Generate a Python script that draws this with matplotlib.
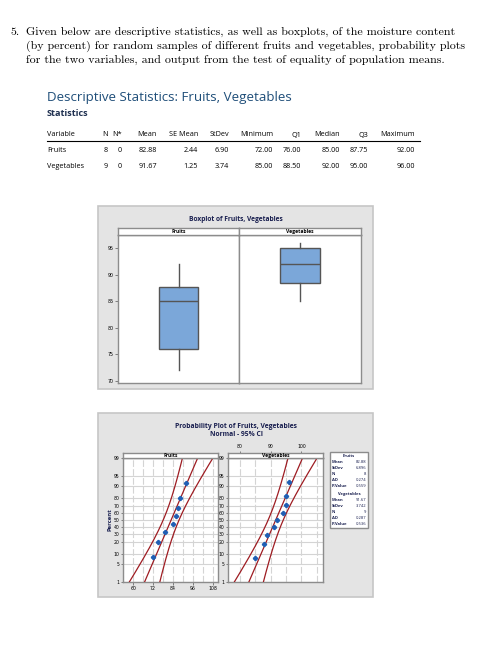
import numpy as np
import matplotlib
matplotlib.use('Agg')
import matplotlib.pyplot as plt
from matplotlib.patches import Rectangle
from statistics import NormalDist

W, H = 482, 668

# ---------------- data ----------------
intro_lines = [
    "Given below are descriptive statistics, as well as boxplots, of the moisture content",
    "(by percent) for random samples of different fruits and vegetables, probability plots",
    "for the two variables, and output from the test of equality of population means.",
]
variables = ['Fruits', 'Vegetables']
headers = ['Variable', 'N', 'N*', 'Mean', 'SE Mean', 'StDev', 'Minimum', 'Q1', 'Median', 'Q3', 'Maximum']
n_vals = [8, 9]
nstar_vals = [0, 0]
mean_vals = [82.88, 91.67]
semean_vals = [2.44, 1.25]
stdev_vals = [6.90, 3.74]
min_vals = [72.00, 85.00]
q1_vals = [76.00, 88.50]
median_vals = [85.00, 92.00]
q3_vals = [87.75, 95.00]
max_vals = [92.00, 96.00]

fruits = [72, 75, 79, 84, 86, 87, 88, 92]
vegetables = [85, 88, 89, 91, 92, 94, 95, 95, 96]

pct_ticks = [1, 5, 10, 20, 30, 40, 50, 60, 70, 80, 90, 95, 99]
box_yticks = [70, 75, 80, 85, 90, 95]
fruit_xticks = [60, 72, 84, 96, 108]
veg_xticks = [80, 90, 100]

legend_labels = ['Mean', 'StDev', 'N', 'AD', 'P-Value']
fruit_legend = ['82.88', '6.896', '8', '0.274', '0.559']
veg_legend = ['91.67', '3.742', '9', '0.287', '0.536']

# ---------------- helpers ----------------
def fx(x):
    return x / W

def fy(y):
    return 1 - y / H

def rect(l, t, r, b):
    return [l / W, 1 - b / H, (r - l) / W, (b - t) / H]

fig = plt.figure(figsize=(W / 100, H / 100), dpi=100)
fig.patch.set_facecolor('white')

def fig_rect(l, t, r, b, fc, ec, lw=1.0):
    fig.add_artist(Rectangle((l / W, 1 - b / H), (r - l) / W, (b - t) / H,
                             transform=fig.transFigure, facecolor=fc,
                             edgecolor=ec, lw=lw, zorder=0))

# ---------------- intro text ----------------
serif = 'cmr10'
fig.text(fx(10), fy(32), '5.', fontsize=8.6, family=serif, va='center', ha='left')
for i, line in enumerate(intro_lines):
    fig.text(fx(26), fy(32 + 14 * i), line, fontsize=8.6, family=serif, va='center', ha='left')

# ---------------- table ----------------
sans = 'Open Sans'
title_col = '#1F4E79'
fig.text(fx(47), fy(98), 'Descriptive Statistics: Fruits, Vegetables', fontsize=9.6,
         family=sans, color=title_col, va='center', ha='left')
fig.text(fx(47), fy(114), 'Statistics', fontsize=6.6, family=sans, color='#1F3050',
         va='center', ha='left', weight='bold')

col_right = [None, 108, 122, 157, 198, 229, 273, 301, 340, 368, 415]
tfs = 5.2
fig.text(fx(47), fy(135), headers[0], fontsize=tfs, family=sans, va='center', ha='left')
for h, xr in zip(headers[1:], col_right[1:]):
    fig.text(fx(xr), fy(135), h, fontsize=tfs, family=sans, va='center', ha='right')
fig.add_artist(plt.Line2D([fx(47), fx(420)], [fy(140.5), fy(140.5)], color='black', lw=0.8,
                          transform=fig.transFigure))
for i, var in enumerate(variables):
    yy = fy(151 + 16 * i)
    vals = [str(n_vals[i]), str(nstar_vals[i]), f'{mean_vals[i]:.2f}', f'{semean_vals[i]:.2f}',
            f'{stdev_vals[i]:.2f}', f'{min_vals[i]:.2f}', f'{q1_vals[i]:.2f}',
            f'{median_vals[i]:.2f}', f'{q3_vals[i]:.2f}', f'{max_vals[i]:.2f}']
    fig.text(fx(47), yy, var, fontsize=tfs, family=sans, va='center', ha='left')
    for v, xr in zip(vals, col_right[1:]):
        fig.text(fx(xr), yy, v, fontsize=tfs, family=sans, va='center', ha='right')

# ---------------- boxplot ----------------
bg = '#E4E4E4'
bg_edge = '#C6C6C6'
frame = '#8C8C8C'
fig_rect(98, 206, 373, 389, bg, bg_edge, 1.2)
fig.text(fx(236), fy(219), 'Boxplot of Fruits, Vegetables', fontsize=4.8, family=sans,
         color='#1A2050', va='center', ha='center', weight='bold')

box_axes = [fig.add_axes(rect(118, 235, 239, 383)), fig.add_axes(rect(239, 235, 361, 383))]
head_axes = [fig.add_axes(rect(118, 228, 239, 235)), fig.add_axes(rect(239, 228, 361, 235))]
for i, (ax, hx) in enumerate(zip(box_axes, head_axes)):
    stats = [dict(whislo=min_vals[i], q1=q1_vals[i], med=median_vals[i],
                  q3=q3_vals[i], whishi=max_vals[i], fliers=[])]
    ax.bxp(stats, positions=[1], widths=0.66, patch_artist=True, showcaps=False,
           boxprops=dict(facecolor='#7BA7D9', edgecolor='#555555', lw=1.0),
           medianprops=dict(color='#555555', lw=1.0),
           whiskerprops=dict(color='#555555', lw=1.0))
    ax.set_xlim(0, 2)
    ax.set_ylim(69.62, 97.44)
    ax.set_xticks([])
    ax.set_facecolor('white')
    for s in ax.spines.values():
        s.set_color(frame)
        s.set_linewidth(1.0)
    if i == 0:
        ax.set_yticks(box_yticks)
        ax.tick_params(axis='y', labelsize=3.4, length=2, width=0.5, color='#555555', pad=1)
    else:
        ax.set_yticks([])
    hx.set_xticks([]); hx.set_yticks([])
    hx.set_facecolor('white')
    for s in hx.spines.values():
        s.set_color(frame)
        s.set_linewidth(1.0)
    hx.text(0.5, 0.45, variables[i], fontsize=3.6, family=sans, weight='bold',
            ha='center', va='center', transform=hx.transAxes)

# ---------------- probability plot ----------------
fig_rect(98, 413, 373, 597, bg, bg_edge, 1.2)
fig.text(fx(236), fy(426), 'Probability Plot of Fruits, Vegetables', fontsize=4.9, family=sans,
         color='#1A2050', va='center', ha='center', weight='bold')
fig.text(fx(236), fy(435), 'Normal - 95% CI', fontsize=4.9, family=sans,
         color='#1A2050', va='center', ha='center', weight='bold')
fig.text(fx(110), fy(520), 'Percent', fontsize=4.2, family=sans, rotation=90,
         va='center', ha='center', color='#1A2050', weight='bold')

nd = NormalDist()
zlo, zhi = nd.inv_cdf(0.01), nd.inv_cdf(0.99)
zt = [nd.inv_cdf(p / 100) for p in pct_ticks]

prob_specs = [
    (fruits, rect(123, 458, 218, 582), rect(123, 453, 218, 458), (53.8, 111.2), fruit_xticks, 6, 'bottom'),
    (vegetables, rect(228, 458, 323, 582), rect(228, 453, 323, 458), (76.2, 107.0), veg_xticks, 5, 'top'),
]
red = '#9E1C22'
for i, (data, r_ax, r_hd, xl, xt, step, side) in enumerate(prob_specs):
    ax = fig.add_axes(r_ax)
    hx = fig.add_axes(r_hd)
    d = np.sort(np.array(data, dtype=float))
    n = len(d)
    zp = [nd.inv_cdf((k + 1 - 0.3) / (n + 0.4)) for k in range(n)]
    m = d.mean()
    sd = d.std(ddof=1)
    zz = np.linspace(zlo - 0.3, zhi + 0.3, 200)
    fit = m + sd * zz
    se = sd * np.sqrt(1.0 / n + zz ** 2 / (2.0 * n))
    ax.plot(fit, zz, color=red, lw=0.9, zorder=3)
    ax.plot(fit - 1.96 * se, zz, color=red, lw=0.9, zorder=3)
    ax.plot(fit + 1.96 * se, zz, color=red, lw=0.9, zorder=3)
    ax.plot(d, zp, ls='none', marker='P', ms=2.8, color='#1F5FB4', mec='#1F5FB4', zorder=4)
    ax.set_xlim(*xl)
    ax.set_ylim(zlo, zhi)
    ax.set_yticks(zt)
    ax.set_yticklabels([str(p) for p in pct_ticks])
    minor = np.arange(np.ceil(xl[0] / step) * step, xl[1], step)
    ax.set_xticks(minor, minor=True)
    ax.grid(axis='y', color='#D4D4D4', lw=0.8, zorder=1)
    ax.grid(axis='x', which='both', color='#D4D4D4', lw=0.8, ls=(0, (6, 2)), zorder=1)
    ax.tick_params(axis='both', labelsize=3.3, length=1.8, width=0.5, color='#555555', pad=1)
    ax.tick_params(axis='x', which='minor', length=0)
    hx.set_yticks([])
    hx.set_xlim(*xl)
    if side == 'top':
        ax.set_xticks(xt)
        ax.tick_params(axis='x', which='major', length=0, labelbottom=False)
        hx.xaxis.tick_top()
        hx.set_xticks(xt)
        hx.tick_params(axis='x', labelsize=3.3, length=1.8, width=0.5, color='#555555', pad=1)
    else:
        ax.set_xticks(xt)
        hx.set_xticks([])
    ax.set_axisbelow(True)
    ax.set_facecolor('white')
    for s in ax.spines.values():
        s.set_color(frame)
        s.set_linewidth(1.0)
    hx.set_facecolor('white')
    for s in hx.spines.values():
        s.set_color(frame)
        s.set_linewidth(1.0)
    hx.text(0.5, 0.45, variables[i], fontsize=3.6, family=sans, weight='bold',
            ha='center', va='center', transform=hx.transAxes)

# legend box
fig_rect(330, 452, 368, 528, 'white', frame, 1.0)
lfs = 3.0
fig.text(fx(349), fy(456), variables[0], fontsize=lfs, family=sans, weight='bold',
         ha='center', va='center', color='#1A2050')
for k, (lab, val) in enumerate(zip(legend_labels, fruit_legend)):
    yy = fy(462 + 6 * k)
    fig.text(fx(332), yy, lab, fontsize=lfs, family=sans, weight='bold', ha='left', va='center', color='#1A2050')
    fig.text(fx(366.5), yy, val, fontsize=lfs, family=sans, ha='right', va='center', color='#1A2050')
fig.text(fx(349), fy(493.5), variables[1], fontsize=lfs, family=sans, weight='bold',
         ha='center', va='center', color='#1A2050')
for k, (lab, val) in enumerate(zip(legend_labels, veg_legend)):
    yy = fy(500 + 6 * k)
    fig.text(fx(332), yy, lab, fontsize=lfs, family=sans, weight='bold', ha='left', va='center', color='#1A2050')
    fig.text(fx(366.5), yy, val, fontsize=lfs, family=sans, ha='right', va='center', color='#1A2050')

fig.savefig('out.png', dpi=100, facecolor='white')
